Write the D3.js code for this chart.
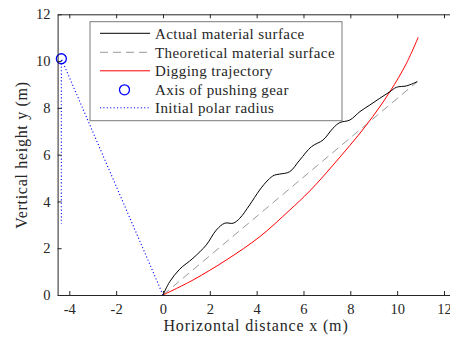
<!DOCTYPE html>
<html><head><meta charset="utf-8">
<script src="https://cdn.jsdelivr.net/npm/d3@7"></script>
<style>
html,body{margin:0;padding:0;background:#fff;}
svg{display:block;}
</style></head>
<body>
<svg id="chart" width="450" height="340"></svg>
<script>
// ---- data ----
const actualX = [0, 0.29, 0.71, 1.28, 1.85, 2.28, 2.64, 3.0, 3.28, 3.7, 4.13, 4.49, 4.75, 4.99, 5.41, 5.84, 6.34, 6.84, 7.26, 7.55, 7.98, 8.41, 8.83, 9.26, 9.69, 9.97, 10.4, 10.86];
const actualY = [0, 0.57, 1.1, 1.57, 2.14, 2.78, 3.07, 3.07, 3.28, 3.85, 4.49, 4.92, 5.12, 5.17, 5.27, 5.77, 6.34, 6.63, 7.13, 7.37, 7.48, 7.84, 8.12, 8.41, 8.69, 8.88, 8.94, 9.12];
const theoX = [0, 10.86];
const theoY = [0, 9.12];
const digX = [0, 1.28, 2.71, 4.13, 5.38, 6.27, 7.26, 8.69, 9.69, 10.4, 10.9];
const digY = [0, 0.64, 1.5, 2.49, 3.6, 4.45, 5.55, 7.27, 8.69, 9.91, 11.02];
const gearX = [-4.34];
const gearY = [10.1];
const polarX = [0, -4.34, -4.34];
const polarY = [0, 10.1, 3.05];
const xTicks = [-4, -2, 0, 2, 4, 6, 8, 10, 12];
const yTicks = [0, 2, 4, 6, 8, 10, 12];
const legendLabels = ["Actual material surface", "Theoretical material surface", "Digging trajectory", "Axis of pushing gear", "Initial polar radius"];
const xLabel = "Horizontal distance x (m)";
const yLabel = "Vertical height y (m)";

// ---- drawing ----
const FONT = '"Liberation Serif", "Times New Roman", serif';
const svg = d3.select("#chart");
const x = d3.scaleLinear().domain([-4.5, 12.5]).range([57.6, 455.7]);
const y = d3.scaleLinear().domain([0, 12]).range([295, 14.3]);
const axisColor = "#262626";

const zip = (a, b) => a.map((v, i) => [v, b[i]]);
const straight = d3.line().x(d => x(d[0])).y(d => y(d[1]));
const smooth = d3.line().x(d => x(d[0])).y(d => y(d[1])).curve(d3.curveCatmullRom.alpha(0.5));

const plot = svg.append("g");

plot.append("path").datum(zip(polarX, polarY))
  .attr("d", straight).attr("fill", "none").attr("stroke", "#0000ff")
  .attr("stroke-width", 1.1).attr("stroke-dasharray", "1.1,2.3");

plot.append("path").datum(zip(theoX, theoY))
  .attr("d", straight).attr("fill", "none").attr("stroke", "#999999")
  .attr("stroke-width", 1).attr("stroke-dasharray", "8,5");

plot.append("path").datum(zip(digX, digY))
  .attr("d", smooth).attr("fill", "none").attr("stroke", "#ff0000")
  .attr("stroke-width", 1);

plot.append("path").datum(zip(actualX, actualY))
  .attr("d", smooth).attr("fill", "none").attr("stroke", "#000000").attr("stroke-width", 1);

plot.selectAll("circle.gear").data(zip(gearX, gearY)).enter().append("circle")
  .attr("class", "gear").attr("cx", d => x(d[0])).attr("cy", d => y(d[1])).attr("r", 5)
  .attr("fill", "none").attr("stroke", "#0000ff").attr("stroke-width", 1.3);

// axes
const xAxisB = d3.axisBottom(x).tickValues(xTicks).tickSizeInner(-4).tickSizeOuter(0).tickPadding(9).tickFormat(d => String(d));
const xAxisT = d3.axisTop(x).tickValues(xTicks).tickSizeInner(-4).tickSizeOuter(0).tickFormat("");
const yAxisL = d3.axisLeft(y).tickValues(yTicks).tickSizeInner(-4).tickSizeOuter(0).tickPadding(7).tickFormat(d => String(d));

function styleAxis(g) {
  g.attr("font-family", FONT).attr("font-size", 14.5);
  g.select(".domain").attr("stroke", axisColor).attr("stroke-width", 1);
  g.selectAll(".tick line").attr("stroke", axisColor).attr("stroke-width", 1);
  g.selectAll(".tick text").attr("fill", axisColor).attr("font-family", FONT).attr("font-size", 14.5);
}
svg.append("g").attr("transform", `translate(0,${y(0)})`).call(xAxisB).call(styleAxis);
svg.append("g").attr("transform", `translate(0,${y(12)})`).call(xAxisT).call(styleAxis);
svg.append("g").attr("transform", `translate(${x(-4.5)},0)`).call(yAxisL).call(styleAxis);

// axis labels
svg.append("text").attr("x", 256).attr("y", 331).attr("text-anchor", "middle")
  .attr("font-family", FONT).attr("font-size", 16).attr("letter-spacing", 0.85).attr("fill", axisColor).text(xLabel);
svg.append("text").attr("transform", "translate(27,155) rotate(-90)").attr("text-anchor", "middle")
  .attr("font-family", FONT).attr("font-size", 16).attr("letter-spacing", 0.7).attr("fill", axisColor).text(yLabel);

// legend
const lg = svg.append("g");
lg.append("rect").attr("x", 90).attr("y", 21.7).attr("width", 252).attr("height", 99)
  .attr("fill", "#fff").attr("stroke", "#7a7a7a").attr("stroke-width", 1);
const rowY = [33.3, 52.3, 70.8, 89.8, 107.8];
const styles = [
  {stroke: "#000000", dash: null},
  {stroke: "#999999", dash: "8,5"},
  {stroke: "#ff0000", dash: null},
  {marker: true},
  {stroke: "#0000ff", dash: "1.1,2.3"}
];
legendLabels.forEach((lab, i) => {
  const s = styles[i];
  if (s.marker) {
    lg.append("circle").attr("cx", 124.5).attr("cy", rowY[i]).attr("r", 5)
      .attr("fill", "none").attr("stroke", "#0000ff").attr("stroke-width", 1.3);
  } else {
    lg.append("line").attr("x1", 100).attr("x2", 150).attr("y1", rowY[i]).attr("y2", rowY[i])
      .attr("stroke", s.stroke).attr("stroke-width", 1).attr("stroke-dasharray", s.dash);
  }
  lg.append("text").attr("x", 155).attr("y", rowY[i]).attr("dy", "0.35em")
    .attr("font-family", FONT).attr("font-size", 15).attr("letter-spacing", 0.42).attr("fill", "#262626").text(lab);
});
</script>
</body></html>
